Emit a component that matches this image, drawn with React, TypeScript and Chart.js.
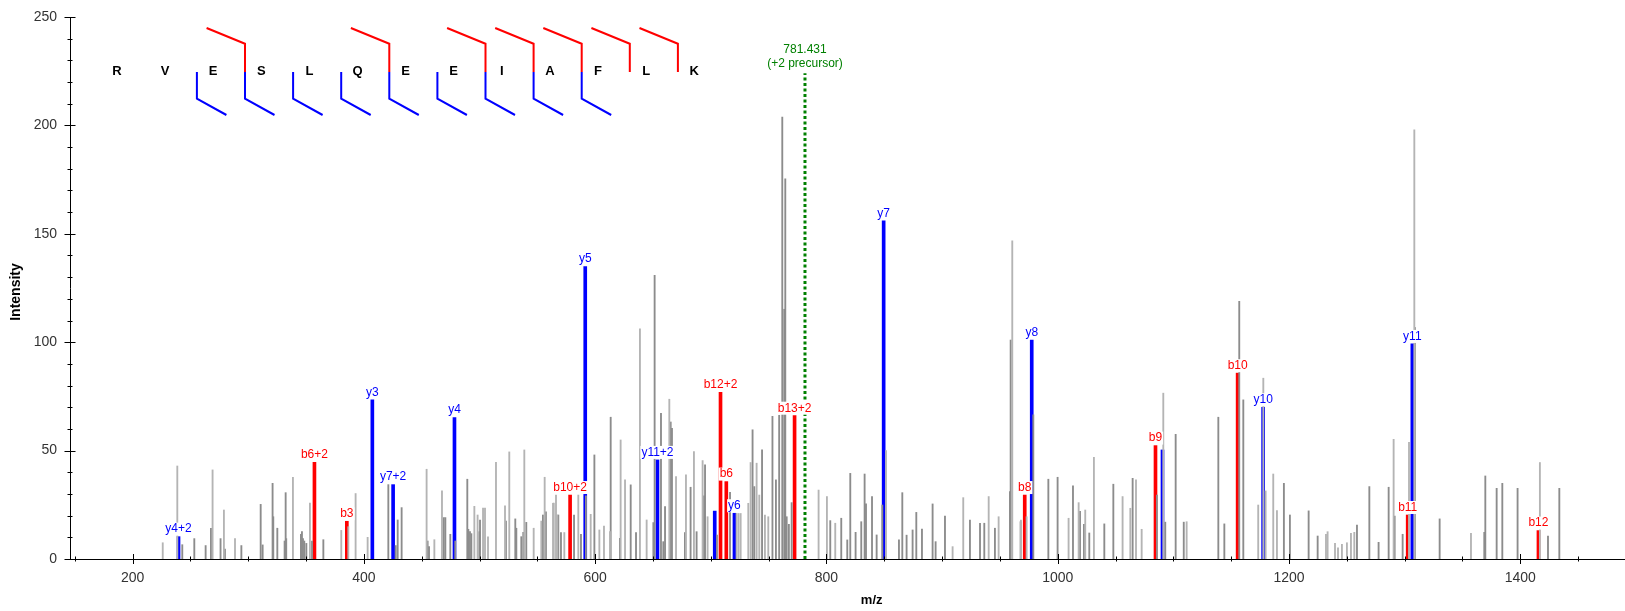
import React, { useEffect, useRef } from 'react';
import { Chart, registerables } from 'chart.js';

Chart.register(...registerables);

// ---------- data ----------
const lightPeaks: [number, number][] = [
  [226.0, 7.5], [238.6, 42.9], [269.1, 41.1], [278.9, 22.6], [288.5, 9.4], [338.6, 37.7], [353.3, 25.8],
  [380.4, 13.2], [386.5, 14.9], [392.8, 30.2], [403.2, 10.0], [454.2, 41.4], [460.9, 8.9], [467.5, 31.5],
  [495.5, 24.3], [498.3, 20.3], [503.0, 23.5], [504.7, 23.5], [507.3, 10.2], [514.2, 44.6], [522.0, 24.5],
  [525.7, 49.4], [538.7, 50.3], [546.8, 14.2], [553.4, 17.5], [556.3, 37.7], [564.0, 25.8], [566.1, 29.5],
  [567.2, 20.3], [573.3, 12.2], [585.4, 29.5], [596.1, 20.6], [603.6, 13.4], [607.6, 15.2], [612.8, 12.6],
  [622.0, 54.9], [625.8, 36.5], [638.7, 106.2], [644.5, 18.0], [664.1, 73.7], [669.9, 38.0], [678.5, 38.8],
  [685.4, 49.5], [692.9, 45.4], [697.2, 19.5], [722.3, 21.0], [724.0, 21.0], [725.8, 21.0], [732.4, 25.7],
  [734.4, 44.5], [739.6, 44.2], [741.9, 29.5], [746.8, 20.3], [749.7, 19.5], [793.2, 31.8], [800.4, 28.8],
  [807.6, 16.5], [851.5, 50.0], [909.1, 5.7], [918.3, 28.3], [940.3, 28.8], [948.9, 19.5], [960.7, 146.8],
  [968.2, 18.0], [973.1, 19.5], [1009.4, 18.8], [1018.1, 26.0], [1023.8, 22.6], [1031.3, 46.9], [1056.1, 28.8],
  [1062.8, 23.4], [1067.7, 36.5], [1072.6, 13.7], [1091.3, 76.5], [1111.5, 17.2], [1173.4, 24.9], [1177.8, 83.4],
  [1179.8, 31.4], [1186.4, 39.2], [1189.6, 22.3], [1232.0, 11.4], [1233.4, 12.6], [1239.8, 7.2], [1242.4, 5.2],
  [1245.8, 6.8], [1250.1, 7.5], [1253.6, 11.8], [1256.5, 12.3], [1290.5, 55.2], [1303.8, 53.8], [1308.4, 198.0],
  [1357.4, 11.8], [1417.0, 44.5],
];

const darkPeaks: [number, number][] = [
  [242.9, 6.6], [253.3, 9.4], [263.1, 6.2], [267.7, 14.2], [276.0, 9.4], [279.8, 4.6], [294.0, 6.2],
  [310.7, 25.2], [312.4, 6.5], [321.0, 34.9], [321.6, 19.5], [325.1, 14.2], [331.4, 8.3], [332.3, 30.6],
  [332.8, 9.4], [345.5, 11.4], [346.4, 12.6], [347.3, 9.4], [348.4, 8.3], [350.2, 7.2], [355.1, 8.3],
  [364.9, 8.9], [421.1, 34.3], [427.5, 6.2], [429.2, 18.0], [432.6, 23.7], [455.1, 8.3], [456.3, 5.7],
  [469.0, 19.1], [470.4, 19.1], [474.7, 11.4], [479.0, 8.3], [489.4, 36.8], [490.3, 13.7], [491.7, 12.6],
  [492.9, 11.7], [499.8, 12.6], [500.4, 18.0], [522.8, 17.5], [530.9, 18.5], [531.8, 14.2], [536.1, 10.3],
  [537.8, 12.3], [540.4, 16.9], [554.8, 20.3], [557.4, 21.8], [563.8, 25.7], [568.1, 20.3], [570.4, 12.2],
  [581.7, 20.3], [587.7, 11.4], [592.0, 29.1], [599.3, 48.0], [613.4, 65.4], [621.4, 9.5], [630.7, 34.2],
  [635.3, 12.2], [650.3, 16.8], [651.4, 130.8], [656.9, 67.2], [658.9, 8.0], [660.4, 24.2], [665.3, 63.2],
  [666.4, 60.3], [677.6, 12.2], [682.5, 33.1], [687.7, 12.6], [694.1, 29.1], [695.0, 43.4], [705.3, 11.0],
  [716.6, 30.8], [736.1, 59.6], [737.6, 33.4], [744.3, 50.4], [753.3, 65.8], [756.3, 36.5], [759.1, 66.3],
  [761.8, 203.8], [763.5, 115.2], [764.4, 175.4], [765.6, 19.5], [767.5, 16.0], [769.9, 26.0], [803.3, 17.7],
  [812.8, 18.8], [818.0, 8.8], [820.6, 39.5], [825.2, 12.3], [830.1, 17.2], [833.0, 39.2], [834.2, 25.4],
  [839.4, 28.8], [843.4, 11.1], [848.3, 24.9], [862.7, 8.8], [865.6, 30.6], [869.3, 11.0], [874.5, 13.4],
  [877.7, 21.5], [882.6, 13.8], [891.8, 25.4], [894.4, 8.0], [902.5, 19.8], [924.1, 18.0], [932.8, 16.5],
  [936.5, 16.5], [945.7, 14.2], [958.7, 31.1], [959.3, 101.0], [967.9, 17.2], [978.9, 66.5], [991.9, 36.8],
  [999.9, 37.7], [1013.2, 33.8], [1019.3, 22.0], [1022.7, 16.0], [1027.3, 12.0], [1040.3, 16.2], [1048.1, 34.5],
  [1064.8, 37.2], [1085.8, 29.5], [1093.0, 17.0], [1102.0, 57.5], [1109.0, 17.0], [1138.9, 65.4], [1144.1, 16.2],
  [1157.0, 118.8], [1160.5, 73.4], [1195.6, 34.9], [1200.8, 20.3], [1217.0, 22.2], [1224.8, 10.6], [1258.8, 15.7],
  [1269.5, 33.4], [1277.5, 7.7], [1286.2, 33.1], [1291.4, 19.8], [1298.3, 11.4], [1308.9, 106.8], [1330.3, 18.5],
  [1368.9, 12.3], [1369.8, 38.3], [1379.6, 32.6], [1384.5, 34.9], [1397.7, 32.6], [1424.0, 10.6], [1433.8, 32.6],
];

const bIonMz = [357.20, 385.22, 578.30, 708.38, 713.39, 772.43, 971.48, 1084.56, 1155.60, 1302.67, 1415.75];
const bIonIntensity = [44.6, 17.4, 29.5, 76.9, 35.7, 66.1, 29.5, 52.3, 85.7, 20.3, 13.1];
const bIonLabels = ['b6+2', 'b3', 'b10+2', 'b12+2', 'b6', 'b13+2', 'b8', 'b9', 'b10', 'b11', 'b12'];

const yIonMz = [239.65, 407.27, 425.24, 478.30, 591.39, 653.85, 703.38, 720.43, 849.47, 977.53, 1090.61, 1177.65, 1306.69];
const yIonIntensity = [10.3, 73.4, 34.3, 65.2, 134.9, 45.7, 22.1, 21.1, 156.0, 101.0, 50.3, 70.0, 99.2];
const yIonLabels = ['y4+2', 'y3', 'y7+2', 'y4', 'y5', 'y11+2', '', 'y6', 'y7', 'y8', '', 'y10', 'y11'];

const sequence = ['R', 'V', 'E', 'S', 'L', 'Q', 'E', 'E', 'I', 'A', 'F', 'L', 'K'];
const yBreaks = [2, 3, 4, 5, 6, 7, 8, 9, 10];
const bBreaks = [3, 6, 8, 9, 10, 11, 12];

const precursorMz = 781.431;
const precursorTop = 224;
const precursorLabel = ['781.431', '(+2 precursor)'];

const xMin = 145.8;
const xMax = 1490.6;
const xTickStep = 50;
const xLabelStep = 200;
const yMax = 250;
const yTickStep = 10;
const yLabelStep = 50;

const FONT = "Arial, 'Liberation Sans', sans-serif";
const RED = '#ff0000';
const BLUE = '#0000ff';

const toPoints = (mz: number[], v: number[]) => mz.map((m, i) => ({ x: m, y: v[i] }));

const isMultiple = (v: number, step: number) => {
  const r = Math.abs(v / step - Math.round(v / step));
  return r < 1e-6;
};

const annotationPlugin = {
  id: 'spectrumAnnotations',
  afterDatasetsDraw(chart: any) {
    const { ctx, chartArea: ca, scales } = chart;
    const x = scales.x;
    const y = scales.y;
    ctx.save();

    // axis tick marks (crossing the axis lines)
    ctx.strokeStyle = '#000';
    ctx.lineWidth = 1;
    x.ticks.forEach((t: any) => {
      const v = t.value;
      if (!isMultiple(v, xTickStep)) return;
      const px = Math.round(x.getPixelForValue(v)) + 0.5;
      const h = isMultiple(v, xLabelStep) ? 5 : 2.5;
      ctx.beginPath();
      ctx.moveTo(px, ca.bottom - h);
      ctx.lineTo(px, ca.bottom + h);
      ctx.stroke();
    });
    y.ticks.forEach((t: any) => {
      const v = t.value;
      if (!isMultiple(v, yTickStep)) return;
      const py = Math.round(y.getPixelForValue(v)) + 0.5;
      const h = isMultiple(v, yLabelStep) ? 5.5 : 2.5;
      ctx.beginPath();
      ctx.moveTo(ca.left - h, py);
      ctx.lineTo(ca.left + h, py);
      ctx.stroke();
    });

    // precursor line
    const ppx = x.getPixelForValue(precursorMz);
    ctx.strokeStyle = '#008000';
    ctx.lineWidth = 3;
    ctx.setLineDash([3, 2.5]);
    ctx.beginPath();
    ctx.moveTo(ppx, y.getPixelForValue(0));
    ctx.lineTo(ppx, y.getPixelForValue(precursorTop));
    ctx.stroke();
    ctx.setLineDash([]);
    const ptop = y.getPixelForValue(precursorTop);
    ctx.fillStyle = '#008000';
    ctx.font = `12px ${FONT}`;
    ctx.textAlign = 'center';
    ctx.textBaseline = 'middle';
    ctx.fillText(precursorLabel[0], ppx, ptop - 24);
    ctx.fillText(precursorLabel[1], ppx, ptop - 10);

    // ion labels with white boxes
    const drawLabels = (dsIndex: number, labels: string[], color: string) => {
      const meta = chart.getDatasetMeta(dsIndex);
      ctx.font = `12px ${FONT}`;
      ctx.textAlign = 'center';
      ctx.textBaseline = 'middle';
      meta.data.forEach((el: any, i: number) => {
        const text = labels[i];
        if (!text) return;
        const cy = el.y - 7.5;
        const w = ctx.measureText(text).width;
        ctx.fillStyle = '#ffffff';
        ctx.fillRect(el.x - w / 2 - 1, cy - 6.5, w + 2, 13);
        ctx.fillStyle = color;
        ctx.fillText(text, el.x, cy);
      });
    };
    drawLabels(2, bIonLabels, RED);
    drawLabels(3, yIonLabels, BLUE);

    // peptide sequence with fragment marks
    const letterX = (i: number) => ca.left + 47 + 48.1 * i;
    const letterY = ca.top + 54.5;
    ctx.fillStyle = '#000';
    ctx.font = `bold 13px ${FONT}`;
    ctx.textAlign = 'center';
    ctx.textBaseline = 'middle';
    sequence.forEach((s, i) => ctx.fillText(s, letterX(i), letterY));

    ctx.lineWidth = 2;
    const baseY = ca.top + 55;
    yBreaks.forEach((bi) => {
      const bx = letterX(bi) - 16.3;
      ctx.strokeStyle = BLUE;
      ctx.beginPath();
      ctx.moveTo(bx, baseY);
      ctx.lineTo(bx, baseY + 26.7);
      ctx.lineTo(bx + 29.5, baseY + 43);
      ctx.stroke();
    });
    bBreaks.forEach((bi) => {
      const bx = letterX(bi) - 16.3;
      ctx.strokeStyle = RED;
      ctx.beginPath();
      ctx.moveTo(bx, baseY);
      ctx.lineTo(bx, baseY - 28.3);
      ctx.lineTo(bx - 38.4, baseY - 44);
      ctx.stroke();
    });

    // axis titles
    ctx.fillStyle = '#000';
    ctx.font = `bold 13px ${FONT}`;
    ctx.textAlign = 'center';
    ctx.textBaseline = 'middle';
    ctx.fillText('m/z', 871.7, 600);
    ctx.save();
    ctx.translate(16.5, 292);
    ctx.rotate(-Math.PI / 2);
    ctx.font = `bold 14px ${FONT}`;
    ctx.fillText('Intensity', 0, 0);
    ctx.restore();

    ctx.restore();
  },
};

export default function App() {
  const canvasRef = useRef<HTMLCanvasElement | null>(null);

  useEffect(() => {
    if (!canvasRef.current) return;
    const chart = new Chart(canvasRef.current, {
      type: 'bar',
      data: {
        datasets: [
          {
            data: lightPeaks.map(([m, v]) => ({ x: m, y: v })),
            backgroundColor: '#b4b4b4',
            barThickness: 1.2,
            grouped: false,
          } as any,
          {
            data: darkPeaks.map(([m, v]) => ({ x: m, y: v })),
            backgroundColor: '#8c8c8c',
            barThickness: 1.2,
            grouped: false,
          } as any,
          {
            data: toPoints(bIonMz, bIonIntensity),
            backgroundColor: RED,
            barThickness: 3,
            grouped: false,
          } as any,
          {
            data: toPoints(yIonMz, yIonIntensity),
            backgroundColor: BLUE,
            barThickness: 3,
            grouped: false,
          } as any,
        ],
      },
      options: {
        animation: false,
        responsive: false,
        devicePixelRatio: 1,
        layout: { padding: { top: 17, left: 0, right: 0, bottom: 0 } },
        plugins: { legend: { display: false }, tooltip: { enabled: false } },
        scales: {
          x: {
            type: 'linear',
            min: xMin,
            max: xMax,
            offset: false,
            grid: { display: false, drawTicks: true, tickLength: 10.5, offset: false },
            border: { display: true, color: '#000', width: 1 },
            ticks: {
              stepSize: xTickStep,
              autoSkip: false,
              includeBounds: false,
              maxRotation: 0,
              padding: 0,
              color: '#333',
              font: { family: FONT, size: 14 },
              callback: (v: any) => (isMultiple(Number(v), xLabelStep) ? String(Math.round(Number(v))) : ''),
            },
            afterFit: (s: any) => {
              s.height = 52;
            },
          },
          y: {
            type: 'linear',
            min: 0,
            max: yMax,
            grid: { display: false, drawTicks: true, tickLength: 13 },
            border: { display: true, color: '#000', width: 1 },
            ticks: {
              stepSize: yTickStep,
              autoSkip: false,
              includeBounds: false,
              padding: 0,
              color: '#333',
              font: { family: FONT, size: 14 },
              callback: (v: any) => (isMultiple(Number(v), yLabelStep) ? String(Math.round(Number(v))) : ''),
            },
            afterFit: (s: any) => {
              s.width = 70;
            },
          },
        },
      } as any,
      plugins: [annotationPlugin],
    });
    return () => chart.destroy();
  }, []);

  return (
    <div style={{ position: 'absolute', left: 0, top: 0, width: 1625, height: 611, background: '#fff' }}>
      <canvas ref={canvasRef} width={1625} height={611} style={{ display: 'block' }} />
    </div>
  );
}
